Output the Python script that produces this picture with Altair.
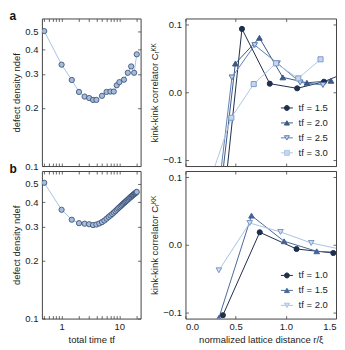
import altair as alt
import pandas as pd

FONT = "Liberation Sans"
TXT = "#222222"
FRAME = "#444444"

# ---------------- data ----------------
# panel a (left): defect density vs total time
a_t = [0.5, 1, 1.5, 2, 2.5, 3, 3.5, 4, 5, 6, 7, 8, 9, 10, 12, 14, 16, 18, 20]
a_n = [0.50, 0.335, 0.279, 0.242, 0.229, 0.225, 0.220, 0.220, 0.231, 0.242,
       0.243, 0.243, 0.262, 0.272, 0.280, 0.304, 0.328, 0.304, 0.379]

# panel b (left): defect density vs total time
b_t = [0.5, 1, 1.5, 2, 2.5, 3, 3.5, 4, 4.5, 5, 5.5, 6, 6.5, 7, 7.5, 8, 8.5, 9,
       9.5, 10, 10.5, 11, 11.5, 12, 12.5, 13, 13.5, 14, 14.5, 15, 15.5, 16,
       16.5, 17, 17.5, 18, 18.5, 19, 19.5, 20]
b_n = [0.505, 0.366, 0.325, 0.312, 0.310, 0.308, 0.305, 0.307, 0.311, 0.316,
       0.322, 0.329, 0.336, 0.342, 0.348, 0.354, 0.360, 0.366, 0.372, 0.377,
       0.382, 0.387, 0.392, 0.397, 0.401, 0.405, 0.409, 0.413, 0.417, 0.421,
       0.425, 0.428, 0.432, 0.435, 0.438, 0.441, 0.444, 0.447, 0.450, 0.453]

# panel a (right): kink-kink correlator
top_labels = ["tf = 1.5", "tf = 2.0", "tf = 2.5", "tf = 3.0"]
top_r = [
    [0.29, 0.563, 0.84, 1.113, 1.38, 1.65],
    [0.257, 0.497, 0.737, 0.97, 1.21, 1.45],
    [0.236, 0.463, 0.69, 0.917, 1.143, 1.37],
    [0.235, 0.457, 0.68, 0.902, 1.124, 1.346],
]
top_c = [
    [-0.29, 0.0936, 0.0127, 0.0058, 0.0156, 0.032],
    [-0.267, 0.0424, 0.0804, 0.022, 0.014, 0.017],
    [-0.264, 0.022, 0.0697, 0.0428, 0.0146, 0.0107],
    [-0.135, -0.0376, 0.0121, 0.0428, 0.0205, 0.0487],
]

# panel b (right)
bot_labels = ["tf = 1.0", "tf = 1.5", "tf = 2.0"]
bot_r = [
    [0.373, 0.74, 1.107, 1.473],
    [0.333, 0.658, 0.983, 1.308, 1.633],
    [0.333, 0.64, 0.947, 1.253, 1.56],
]
bot_c = [
    [-0.104, 0.0185, -0.0062, -0.0121],
    [-0.108, 0.0431, 0.0052, -0.0096, -0.012],
    [-0.0377, 0.0322, 0.019, 0.0027, -0.007],
]

# ---------------- styles ----------------
NAVY = "#1f2f4d"
top_style = [
    # shape, fill, stroke, line, size
    ("circle", NAVY, NAVY, NAVY, 26),
    ("triangle-up", "#3b5886", "#3b5886", "#3b5886", 32),
    ("triangle-down", "#c2d3ec", "#5877a8", "#5f80b3", 32),
    ("square", "#c6d6ee", "#7c9ccb", "#aec7e8", 26),
]
bot_style = [
    ("circle", NAVY, NAVY, NAVY, 26),
    ("triangle-up", "#44649a", "#44649a", "#4a6a9a", 32),
    ("triangle-down", "#d0ddf0", "#7a98c6", "#a9c3e6", 32),
]
# legend symbols: marker with a short line through it
K = "0.552"
LEG_PATH = {
    "circle": ("M-2.4,0L-1,0M1,0L2.4,0M1,0C1,{k},{k},1,0,1C-{k},1,-1,{k},-1,0"
               "C-1,-{k},-{k},-1,0,-1C{k},-1,1,-{k},1,0Z").format(k=K),
    "triangle-up": "M-2.4,0L-0.5,0M0.5,0L2.4,0M0,-0.866L-1,0.866L1,0.866Z",
    "triangle-down": "M-2.4,0L-0.5,0M0.5,0L2.4,0M0,0.866L-1,-0.866L1,-0.866Z",
    "square": "M-2.4,0L-1,0M1,0L2.4,0M-1,-1L1,-1L1,1L-1,1Z",
}

TICK = {"expr": "-3"}
LW, RW, H = 99, 151, 148
AX = dict(grid=False, domain=False, tickColor=FRAME, tickWidth=0.8,
          labelFont=FONT, labelFontSize=9.5, labelColor=TXT,
          titleFont=FONT, titleFontSize=9.5, titleFontWeight="normal", titleColor=TXT)


def ax(**kw):
    d = dict(AX)
    d.update(kw)
    return alt.Axis(**d)


def left_panel(t, n, letter, show_x):
    df = pd.DataFrame({"t": t, "n": n})
    xs = alt.Scale(type="log", domain=[0.456, 23.3], nice=False)
    ys = alt.Scale(type="log", domain=[0.1, 0.581], nice=False)
    xvals = [0.5, 0.6, 0.7, 0.8, 0.9, 1, 2, 3, 4, 5, 6, 7, 8, 9, 10, 20]
    yvals = [0.1, 0.2, 0.3, 0.4, 0.5]
    xb = dict(orient="bottom", values=xvals, tickSize=TICK)
    if show_x:
        xb.update(labels=True, format="~g", labelPadding=6,
                  labelExpr="(datum.value == 1 || datum.value == 10) ? datum.label : ''",
                  title="total time tf", titlePadding=4)
    else:
        xb.update(labels=False, title=None)
    x_main = alt.X("t:Q", scale=xs, axis=ax(**xb))
    y_main = alt.Y("n:Q", scale=ys, axis=ax(
        orient="left", values=yvals, format=".1f", tickSize=TICK, labelPadding=7,
        title="defect density ndef", titlePadding=3))
    line = alt.Chart(df).mark_line(color="#a9c3e6", strokeWidth=1, clip=True).encode(
        x=x_main, y=y_main)
    pts = alt.Chart(df).mark_circle(size=28, fill="#a3bbdd", stroke="#34496b",
                                    strokeWidth=0.8, opacity=1, clip=True).encode(
        x=alt.X("t:Q", scale=xs, axis=None), y=alt.Y("n:Q", scale=ys, axis=None))
    # mirrored top/right ticks; the top axis also carries the panel letter
    mirror = alt.Chart(df).mark_point(opacity=0, clip=True).encode(
        x=alt.X("t:Q", scale=xs, axis=ax(
            orient="top", values=xvals, labels=False, tickSize=TICK,
            title=letter, titleX=-33, titleY=1, titleAngle=0, titleAlign="left",
            titleBaseline="alphabetic", titleFontSize=12, titleFontWeight="bold",
            titleColor="#111111")),
        y=alt.Y("n:Q", scale=ys, axis=ax(orient="right", values=yvals, labels=False,
                                          title=None, tickSize=TICK)))
    return alt.layer(line, pts, mirror).resolve_axis(
        x="independent", y="independent").properties(width=LW, height=H)


def right_panel(labels, rs, cs, styles, show_x):
    rows = []
    for lab, r, c in zip(labels, rs, cs):
        for ri, ci in zip(r, c):
            rows.append({"s": lab, "r": ri, "c": ci})
    df = pd.DataFrame(rows)
    xs = alt.Scale(domain=[0, 1.5], nice=False, zero=False)
    ys = alt.Scale(domain=[-0.109, 0.109], nice=False, zero=False)
    xvals = [0, 0.5, 1.0, 1.5]
    yvals = [-0.1, 0.0, 0.1]
    xb = dict(orient="bottom", values=xvals, tickSize=TICK)
    if show_x:
        xb.update(labels=True, format=".1f", labelPadding=6,
                  title="normalized lattice distance r/ξ", titlePadding=4)
    else:
        xb.update(labels=False, title=None)
    x_main = alt.X("r:Q", scale=xs, axis=ax(**xb))
    y_main = alt.Y("c:Q", scale=ys, axis=ax(
        orient="left", values=yvals, format=".1f", tickSize=TICK, labelPadding=7,
        title="kink-kink correlator Cᵣᴷᴷ", titlePadding=3))
    x_none = alt.X("r:Q", scale=xs, axis=None)
    y_none = alt.Y("c:Q", scale=ys, axis=None)
    layers = []
    for i, (lab, st) in enumerate(zip(labels, styles)):
        layers.append(
            alt.Chart(df).transform_filter(alt.datum.s == lab).mark_line(
                color=st[3], strokeWidth=1, clip=True).encode(
                x=x_main if i == 0 else x_none, y=y_main if i == 0 else y_none))
    for lab, st in zip(labels, styles):
        shape, fill, stroke, _, size = st
        layers.append(
            alt.Chart(df).transform_filter(alt.datum.s == lab).mark_point(
                shape=shape, filled=True, fill=fill, stroke=stroke, strokeWidth=1,
                size=size, opacity=1, clip=True).encode(x=x_none, y=y_none))
    leg = alt.Legend(title=None, orient="bottom-right", offset=8, padding=0,
                     labelFont=FONT, labelFontSize=9.5, labelColor=TXT,
                     symbolSize=25, symbolStrokeWidth=1, labelOffset=7, rowPadding=4)
    # legend-only layer (no marks drawn): symbols are marker + line segment
    legend_layer = alt.Chart(df).transform_filter("false").mark_point(
        filled=True, strokeWidth=1, opacity=1, clip=True).encode(
        x=x_none, y=y_none,
        shape=alt.Shape("s:N", scale=alt.Scale(domain=labels,
                                               range=[LEG_PATH[st[0]] for st in styles]),
                        legend=leg),
        fill=alt.Fill("s:N", scale=alt.Scale(domain=labels, range=[st[1] for st in styles]),
                      legend=leg),
        stroke=alt.Stroke("s:N", scale=alt.Scale(domain=labels,
                                                 range=[st[3] for st in styles]),
                          legend=leg))
    layers.append(legend_layer)
    mirror = alt.Chart(df).mark_point(opacity=0, clip=True).encode(
        x=alt.X("r:Q", scale=xs, axis=ax(orient="top", values=xvals, labels=False,
                                          title=None, tickSize=TICK)),
        y=alt.Y("c:Q", scale=ys, axis=ax(orient="right", values=yvals, labels=False,
                                          title=None, tickSize=TICK)))
    layers.append(mirror)
    return alt.layer(*layers).resolve_axis(
        x="independent", y="independent").properties(width=RW, height=H)


aL = left_panel(a_t, a_n, "a", False)
aR = right_panel(top_labels, top_r, top_c, top_style, False)
bL = left_panel(b_t, b_n, "b", True)
bR = right_panel(bot_labels, bot_r, bot_c, bot_style, True)

chart = alt.concat(aL, aR, bL, bR, columns=2, spacing={"row": 5, "column": 45},
                   bounds="flush", padding=0, background="white").resolve_scale(
    fill="independent", stroke="independent", shape="independent").resolve_legend(
    fill="independent", stroke="independent", shape="independent").configure_view(
    stroke=FRAME, strokeWidth=1)

chart.save("out.html", embed_options={"renderer": "svg", "actions": False})
